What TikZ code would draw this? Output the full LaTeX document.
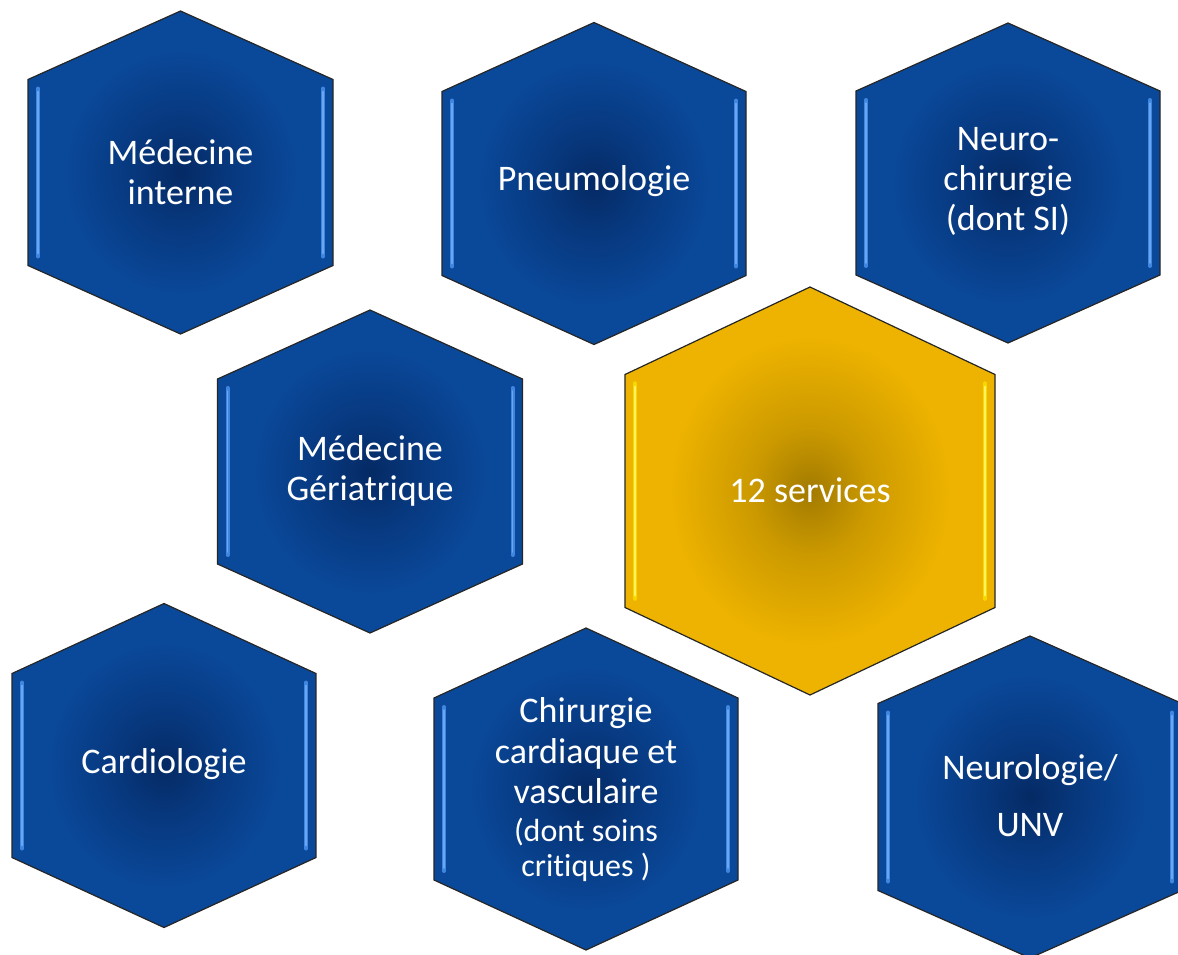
\documentclass[tikz,border=0pt]{standalone}
\usepackage{fontspec}
\newfontfamily\hexfont[Ligatures={NoCommon}]{Carlito}
\definecolor{bluee}{HTML}{0A4899}
\definecolor{bluem}{HTML}{07387E}
\definecolor{bluec}{HTML}{052A64}
\definecolor{golde}{HTML}{EEB300}
\definecolor{goldm}{HTML}{CC9A00}
\definecolor{goldc}{HTML}{A27A00}
\definecolor{bevb}{HTML}{3F86E0}
\definecolor{bevbl}{HTML}{6AA6F2}
\definecolor{bevg}{HTML}{F5D800}
\definecolor{bevgl}{HTML}{FFF45A}
\pgfdeclareradialshading{hexblue}{\pgfpoint{0bp}{0bp}}{color(0bp)=(bluec); color(8bp)=(bluem); color(19bp)=(bluee); color(50bp)=(bluee)}
\pgfdeclareradialshading{hexgold}{\pgfpoint{0bp}{0bp}}{color(0bp)=(goldc); color(8bp)=(goldm); color(19bp)=(golde); color(50bp)=(golde)}
\tikzset{
  hexblue/.style={shade, shading=hexblue, draw=black!85, line width=1.2pt, line join=miter},
  hexgold/.style={shade, shading=hexgold, draw=black!85, line width=1.2pt, line join=miter},
  bevblue/.style={draw=bevb, line width=4pt, line cap=round},
  bevblueL/.style={draw=bevbl, line width=1.5pt, line cap=round},
  bevgold/.style={draw=bevg, line width=4.5pt, line cap=round},
  bevgoldL/.style={draw=bevgl, line width=1.8pt, line cap=round},
  lbl/.style={text=white, align=center, inner sep=0pt, font=\hexfont\fontsize{36}{40}\selectfont}
}
\newcommand\hexcell[6]{%
  \begin{scope}[shift={(#1,#2)}]
    \path[hex#6] (-#3,-#5) -- (0,-#4) -- (#3,-#5) -- (#3,#5) -- (0,#4) -- (-#3,#5) -- cycle;
    \path[bev#6] (-#3+10,-#5+9) -- (-#3+10,#5-9);
    \path[bev#6] (#3-10,-#5+9) -- (#3-10,#5-9);
    \path[bev#6L] (-#3+10,-#5+12) -- (-#3+10,#5-12);
    \path[bev#6L] (#3-10,-#5+12) -- (#3-10,#5-12);
  \end{scope}}
\begin{document}
\begin{tikzpicture}[x=1pt,y=-1pt]
\path[use as bounding box, fill=white] (0,0) rectangle (1178,954);
\clip (0,0) rectangle (1178,954);
\hexcell{180.5}{172.5}{152.5}{161.5}{93}{blue}
\hexcell{594}{183.5}{152}{161}{92}{blue}
\hexcell{1008}{183}{152}{160}{92}{blue}
\hexcell{370}{471.5}{152.5}{161.5}{92.5}{blue}
\hexcell{810}{491}{185}{204}{116.5}{gold}
\hexcell{164}{765.5}{152}{162}{92}{blue}
\hexcell{586}{789}{152}{161}{91}{blue}
\hexcell{1030}{797}{152}{161}{93.5}{blue}
\node[lbl] (mi) at (180.5,172.5) {Médecine\\interne};
\node[lbl] (pn) at (594,181.5) {Pneumologie};
\node[lbl] (nc) at (1008,181.5) {Neuro-\\chirurgie\\(dont SI)};
\node[lbl] (mg) at (370,470.5) {Médecine\\Gériatrique};
\node[lbl] (sv) at (810,490) {12 services};
\node[lbl] (ca) at (164,764) {Cardiologie};
\node[lbl] (cc) at (586,790) {Chirurgie\\[1pt]cardiaque et\\vasculaire\\[-2pt]{\fontsize{32}{36}\selectfont (dont soins}\\[-5pt]{\fontsize{32}{36}\selectfont critiques )}};
\node[lbl] (nu) at (1030,796) {Neurologie/\\[17pt]UNV};
\end{tikzpicture}
\end{document}
